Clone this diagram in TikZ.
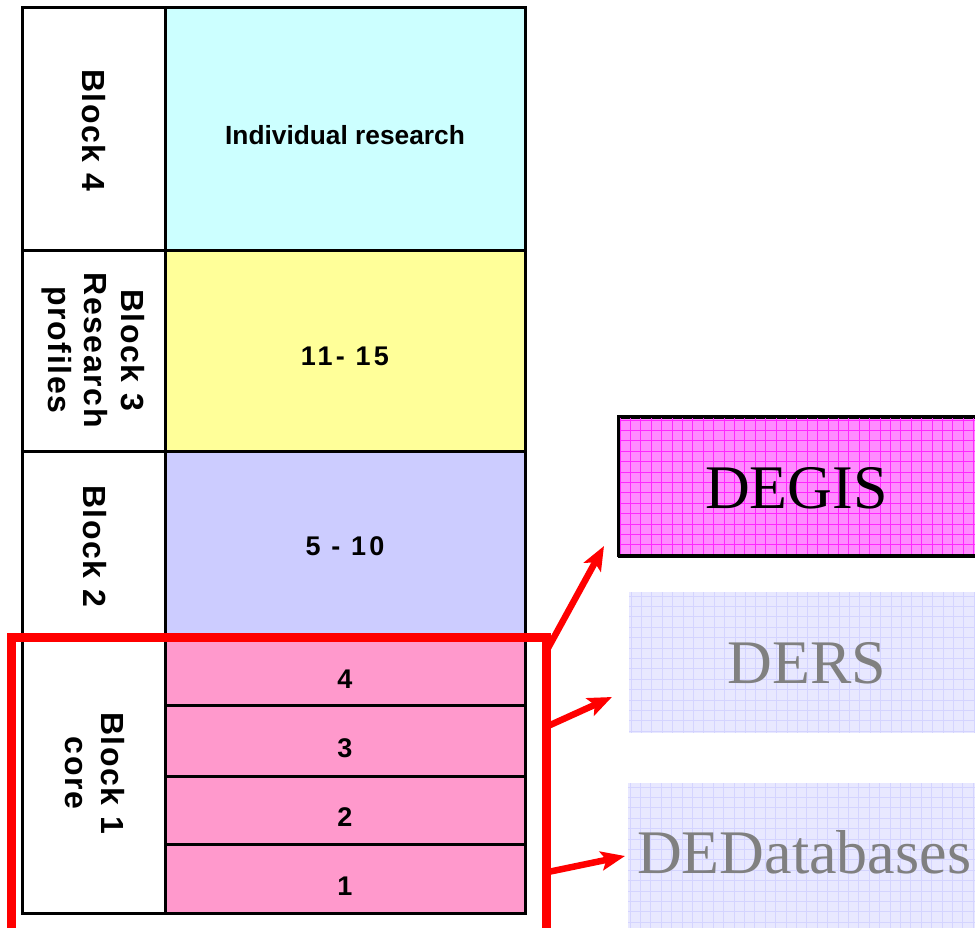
\documentclass[tikz,border=0pt]{standalone}
\usepackage{fontspec}
\setmainfont{Liberation Serif}
\setsansfont{Liberation Sans}
\usetikzlibrary{arrows.meta}
\definecolor{cellcyan}{RGB}{204,255,255}
\definecolor{cellyellow}{RGB}{255,255,153}
\definecolor{celllav}{RGB}{204,204,255}
\definecolor{cellpink}{RGB}{255,153,204}
\definecolor{degisfill}{RGB}{255,140,255}
\definecolor{degisgrid}{RGB}{255,40,255}
\definecolor{dersfill}{RGB}{232,232,255}
\definecolor{dersgrid}{RGB}{212,212,255}
\definecolor{redline}{RGB}{255,0,0}
\definecolor{graytext}{RGB}{128,128,128}
\tikzset{
  cell/.style={draw=black, line width=3pt, inner sep=0pt, anchor=center},
  celltext/.style={font=\sffamily\bfseries\fontsize{26.3}{30}\selectfont, inner sep=0pt, anchor=center},
  numtext/.style={font=\sffamily\bfseries\fontsize{27}{30}\selectfont\addfontfeature{LetterSpace=12}, inner sep=0pt, anchor=center},
  blocktext/.style={font=\sffamily\bfseries\fontsize{32}{36.5}\selectfont\addfontfeature{LetterSpace=5}, inner sep=0pt, anchor=center, rotate=-90, align=center},
  bigtext/.style={font=\fontsize{62}{70}\selectfont, inner sep=0pt},
  redarrow/.style={redline, line width=6.5pt, -{Stealth[length=24pt,width=19pt,inset=5pt]}},
}
\begin{document}
\begin{tikzpicture}[x=1pt,y=-1pt]
\useasboundingbox (0,0) rectangle (975,928);
\clip (0,0) rectangle (975,928);
% right boxes
\node[draw=black, line width=3pt, fill=degisfill, minimum width=380pt, minimum height=139pt, inner sep=0pt, anchor=north west] (degisbox) at (618,416) {};
\begin{scope}
\clip (619.5,417.5) rectangle (990,553.5);
\foreach \gx in {0,...,36} {\draw[degisgrid, line width=0.7pt] (620+\gx*10.4,416) -- (620+\gx*10.4,556);}
\foreach \gy in {0,...,14} {\draw[degisgrid, line width=0.7pt] (618,420+\gy*10.4) -- (990,420+\gy*10.4);}
\end{scope}
\draw[black, line width=3pt] (618,416) rectangle (1000,555);
\node[bigtext, anchor=base] (degis) at (796.5,508) {DEGIS};

\node[fill=dersfill, minimum width=360pt, minimum height=141pt, inner sep=0pt, anchor=north west] (dersbox) at (629,592) {};
\begin{scope}
\clip (629,592) rectangle (990,733);
\foreach \gx in {0,...,35} {\draw[dersgrid, line width=0.7pt] (631+\gx*10.4,592) -- (631+\gx*10.4,733);}
\foreach \gy in {0,...,14} {\draw[dersgrid, line width=0.7pt] (629,596+\gy*10.4) -- (990,596+\gy*10.4);}
\end{scope}
\node[bigtext, anchor=base, text=graytext] (ders) at (807,683) {DERS};

\node[fill=dersfill, minimum width=360pt, minimum height=160pt, inner sep=0pt, anchor=north west] (dedbbox) at (628,783) {};
\begin{scope}
\clip (628,783) rectangle (990,940);
\foreach \gx in {0,...,35} {\draw[dersgrid, line width=0.7pt] (630+\gx*10.4,783) -- (630+\gx*10.4,940);}
\foreach \gy in {0,...,15} {\draw[dersgrid, line width=0.7pt] (628,787+\gy*10.4) -- (990,787+\gy*10.4);}
\end{scope}
\node[bigtext, anchor=base west, text=graytext] (dedb) at (637,873) {DEDatabases};

% table cells
\node[cell, fill=white, minimum width=143pt, minimum height=243pt] (b4l) at (93.5,129.5) {};
\node[cell, fill=cellcyan, minimum width=360pt, minimum height=243pt] (b4) at (345,129.5) {};
\node[cell, fill=white, minimum width=143pt, minimum height=200pt] (b3l) at (93.5,351) {};
\node[cell, fill=cellyellow, minimum width=360pt, minimum height=200pt] (b3) at (345,351) {};
\node[cell, fill=white, minimum width=143pt, minimum height=186pt] (b2l) at (93.5,544) {};
\node[cell, fill=celllav, minimum width=360pt, minimum height=186pt] (b2) at (345,544) {};
\node[cell, fill=white, minimum width=143pt, minimum height=276pt] (b1l) at (93.5,775) {};
\node[cell, fill=cellpink, minimum width=360pt, minimum height=68pt] (p4) at (345,671) {};
\node[cell, fill=cellpink, minimum width=360pt, minimum height=71pt] (p3) at (345,740.5) {};
\node[cell, fill=cellpink, minimum width=360pt, minimum height=68pt] (p2) at (345,810) {};
\node[cell, fill=cellpink, minimum width=360pt, minimum height=69pt] (p1) at (345,878.5) {};

% texts
\node[blocktext] (t4l) at (93.5,130) {Block 4};
\node[blocktext] (t3l) at (93,350) {Block 3\\Research\\profiles};
\node[blocktext] (t2l) at (95,546) {Block 2};
\node[blocktext] (t1l) at (95,773) {Block 1\\core};
\node[celltext] (t4) at (345,135) {Individual research};
\node[numtext] (t3) at (345,356) {11- 15};
\node[numtext] (t2) at (345,546) {5 - 10};
\node[numtext] (n4) at (345,679) {4};
\node[numtext] (n3) at (345,748) {3};
\node[numtext] (n2) at (345,817) {2};
\node[numtext] (n1) at (345,886) {1};

% red frame and arrows
\draw[redline, line width=9pt] (11,637) rectangle (546,945);
\coordinate (s1) at (547,650);
\coordinate (e1) at (604,546);
\coordinate (s2) at (548,726);
\coordinate (e2) at (612,697);
\coordinate (s3) at (548,872);
\coordinate (e3) at (625,856);
\draw[redarrow] (s1) -- (e1);
\draw[redarrow] (s2) -- (e2);
\draw[redarrow] (s3) -- (e3);
\end{tikzpicture}
\end{document}
